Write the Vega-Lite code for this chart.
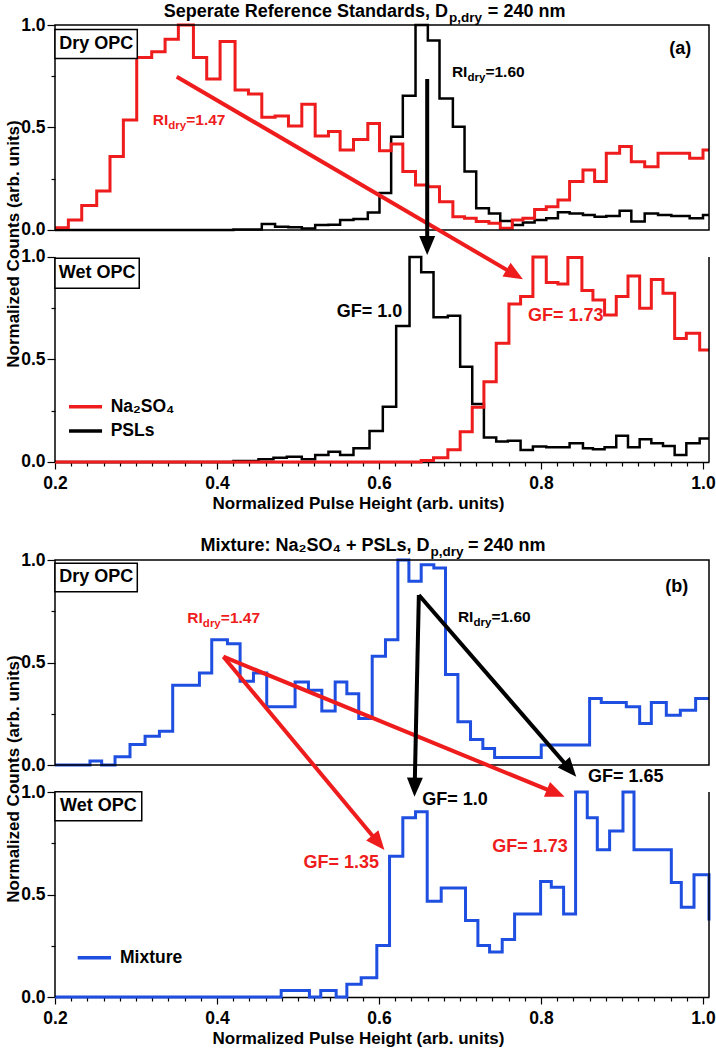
{
"$schema":"https://vega.github.io/schema/vega-lite/v6.json",
"width":654,"height":972,
"autosize":"none",
"padding":{"left":55,"top":25,"right":7,"bottom":53},
"config":{
 "font":"Liberation Sans",
 "view":{"stroke":null},
 "axis":{"labelFont":"Liberation Sans","labelFontSize":17.5,"labelFontWeight":"bold","labelColor":"#000","titleFont":"Liberation Sans","titleFontSize":17,"titleFontWeight":"bold","titleColor":"#000","tickColor":"#000","tickWidth":1.2,"domainColor":"#000","domainWidth":1.5,"grid":false,"labelFlush":false,"labelOverlap":false},
 "text":{"font":"Liberation Sans","fontWeight":"bold"}
},
"datasets":{
 "aDryNa":[{"x":0.2,"y":0.011},{"x":0.2165,"y":0.049},{"x":0.233,"y":0.119},{"x":0.2515,"y":0.19},{"x":0.2679,"y":0.358},{"x":0.2844,"y":0.537},{"x":0.3009,"y":0.842},{"x":0.3194,"y":0.87},{"x":0.3359,"y":0.93},{"x":0.3523,"y":1.0},{"x":0.3709,"y":0.842},{"x":0.3873,"y":0.737},{"x":0.4038,"y":0.919},{"x":0.4223,"y":0.683},{"x":0.4388,"y":0.663},{"x":0.4553,"y":0.55},{"x":0.4717,"y":0.556},{"x":0.4882,"y":0.507},{"x":0.5047,"y":0.613},{"x":0.5212,"y":0.459},{"x":0.5376,"y":0.48},{"x":0.552,"y":0.39},{"x":0.5685,"y":0.442},{"x":0.5862,"y":0.52},{"x":0.6006,"y":0.387},{"x":0.615,"y":0.42},{"x":0.6294,"y":0.285},{"x":0.6451,"y":0.22},{"x":0.6603,"y":0.211},{"x":0.6747,"y":0.138},{"x":0.6912,"y":0.065},{"x":0.7056,"y":0.057},{"x":0.72,"y":0.041},{"x":0.7357,"y":0.033},{"x":0.7497,"y":0.008},{"x":0.7645,"y":0.049},{"x":0.7777,"y":0.057},{"x":0.7921,"y":0.1},{"x":0.8065,"y":0.114},{"x":0.8209,"y":0.146},{"x":0.8353,"y":0.236},{"x":0.8518,"y":0.293},{"x":0.8662,"y":0.236},{"x":0.8806,"y":0.374},{"x":0.8971,"y":0.407},{"x":0.9115,"y":0.333},{"x":0.928,"y":0.309},{"x":0.9445,"y":0.374},{"x":0.9609,"y":0.374},{"x":0.9835,"y":0.35},{"x":1.0,"y":0.39},{"x":1.0074,"y":0.39}],
 "aDryPSL":[{"x":0.2,"y":0},{"x":0.4203,"y":0.003},{"x":0.4553,"y":0.029},{"x":0.4717,"y":0.016},{"x":0.4882,"y":0.013},{"x":0.5047,"y":0.007},{"x":0.5212,"y":0.024},{"x":0.5376,"y":0.026},{"x":0.552,"y":0.049},{"x":0.5685,"y":0.054},{"x":0.5862,"y":0.085},{"x":0.6006,"y":0.18},{"x":0.615,"y":0.455},{"x":0.6294,"y":0.655},{"x":0.6451,"y":1.0},{"x":0.6603,"y":0.924},{"x":0.6747,"y":0.642},{"x":0.6912,"y":0.504},{"x":0.7056,"y":0.285},{"x":0.72,"y":0.106},{"x":0.7357,"y":0.081},{"x":0.7497,"y":0.044},{"x":0.7645,"y":0.024},{"x":0.7777,"y":0.036},{"x":0.7921,"y":0.049},{"x":0.8065,"y":0.057},{"x":0.8209,"y":0.086},{"x":0.8353,"y":0.081},{"x":0.8518,"y":0.073},{"x":0.8662,"y":0.065},{"x":0.8806,"y":0.068},{"x":0.8971,"y":0.094},{"x":0.9115,"y":0.041},{"x":0.928,"y":0.081},{"x":0.9445,"y":0.073},{"x":0.9609,"y":0.068},{"x":0.9835,"y":0.057},{"x":1.0,"y":0.073},{"x":1.0074,"y":0.073}],
 "aWetPSL":[{"x":0.2,"y":0},{"x":0.4203,"y":0.005},{"x":0.4512,"y":0.013},{"x":0.4697,"y":0.021},{"x":0.4862,"y":0.026},{"x":0.5047,"y":0.013},{"x":0.5212,"y":0.034},{"x":0.5376,"y":0.05},{"x":0.552,"y":0.034},{"x":0.5685,"y":0.067},{"x":0.5883,"y":0.151},{"x":0.6047,"y":0.27},{"x":0.6212,"y":0.663},{"x":0.6377,"y":1.0},{"x":0.6521,"y":0.925},{"x":0.6673,"y":0.706},{"x":0.685,"y":0.714},{"x":0.7002,"y":0.465},{"x":0.7151,"y":0.283},{"x":0.7295,"y":0.12},{"x":0.7447,"y":0.1},{"x":0.7591,"y":0.104},{"x":0.7748,"y":0.059},{"x":0.79,"y":0.075},{"x":0.8065,"y":0.072},{"x":0.8209,"y":0.072},{"x":0.8353,"y":0.091},{"x":0.8518,"y":0.067},{"x":0.8641,"y":0.062},{"x":0.8785,"y":0.072},{"x":0.8929,"y":0.128},{"x":0.9074,"y":0.072},{"x":0.9218,"y":0.111},{"x":0.9362,"y":0.091},{"x":0.9506,"y":0.078},{"x":0.965,"y":0.034},{"x":0.9794,"y":0.091},{"x":0.9959,"y":0.115},{"x":1.0074,"y":0.115}],
 "aWetNa":[{"x":0.2,"y":0},{"x":0.6521,"y":0.007},{"x":0.6673,"y":0.021},{"x":0.685,"y":0.06},{"x":0.7002,"y":0.148},{"x":0.7151,"y":0.267},{"x":0.7295,"y":0.392},{"x":0.7447,"y":0.579},{"x":0.7604,"y":0.771},{"x":0.7748,"y":0.807},{"x":0.79,"y":1.0},{"x":0.8065,"y":0.875},{"x":0.8209,"y":0.868},{"x":0.8332,"y":0.998},{"x":0.8505,"y":0.836},{"x":0.8641,"y":0.79},{"x":0.8785,"y":0.717},{"x":0.8929,"y":0.807},{"x":0.9074,"y":0.907},{"x":0.9218,"y":0.75},{"x":0.9362,"y":0.89},{"x":0.9506,"y":0.823},{"x":0.965,"y":0.603},{"x":0.9794,"y":0.628},{"x":0.9959,"y":0.546},{"x":1.0074,"y":0.546}],
 "bDryMix":[{"x":0.2,"y":0},{"x":0.2432,"y":0.02},{"x":0.2576,"y":0},{"x":0.2741,"y":0.04},{"x":0.2926,"y":0.1},{"x":0.3112,"y":0.14},{"x":0.3289,"y":0.165},{"x":0.3453,"y":0.389},{"x":0.3783,"y":0.449},{"x":0.3935,"y":0.611},{"x":0.4129,"y":0.592},{"x":0.4285,"y":0.408},{"x":0.445,"y":0.449},{"x":0.4614,"y":0.284},{"x":0.4964,"y":0.405},{"x":0.5129,"y":0.365},{"x":0.5294,"y":0.264},{"x":0.5459,"y":0.405},{"x":0.5603,"y":0.348},{"x":0.575,"y":0.227},{"x":0.5916,"y":0.53},{"x":0.608,"y":0.611},{"x":0.6233,"y":1.0},{"x":0.6369,"y":0.896},{"x":0.6521,"y":0.977},{"x":0.6677,"y":0.961},{"x":0.6821,"y":0.441},{"x":0.6974,"y":0.211},{"x":0.713,"y":0.125},{"x":0.7282,"y":0.081},{"x":0.7427,"y":0.037},{"x":0.8003,"y":0.097},{"x":0.86,"y":0.324},{"x":0.8744,"y":0.305},{"x":0.9053,"y":0.284},{"x":0.9218,"y":0.203},{"x":0.9362,"y":0.305},{"x":0.9547,"y":0.243},{"x":0.972,"y":0.267},{"x":0.9909,"y":0.324},{"x":1.0074,"y":0.324}],
 "bWetMix":[{"x":0.2,"y":0},{"x":0.4792,"y":0.032},{"x":0.5141,"y":0},{"x":0.5281,"y":0.032},{"x":0.5471,"y":0},{"x":0.5603,"y":0.062},{"x":0.578,"y":0.094},{"x":0.5973,"y":0.251},{"x":0.613,"y":0.686},{"x":0.6294,"y":0.875},{"x":0.6451,"y":0.904},{"x":0.6595,"y":0.467},{"x":0.6768,"y":0.532},{"x":0.7068,"y":0.373},{"x":0.7221,"y":0.251},{"x":0.7365,"y":0.219},{"x":0.7521,"y":0.28},{"x":0.7674,"y":0.405},{"x":0.7995,"y":0.564},{"x":0.8127,"y":0.535},{"x":0.8279,"y":0.405},{"x":0.8427,"y":1.0},{"x":0.8571,"y":0.875},{"x":0.8695,"y":0.718},{"x":0.8847,"y":0.81},{"x":0.9012,"y":1.0},{"x":0.9148,"y":0.718},{"x":0.9609,"y":0.559},{"x":0.9732,"y":0.438},{"x":0.9889,"y":0.596},{"x":1.0074,"y":0.373}],
 "frames":[
  {"panel":"aDry","x":0.2,"x2":1.0074,"y":0,"y2":1},
  {"panel":"aWet","x":0.2,"x2":0.2,"y":0,"y2":1},
  {"panel":"aWet","x":1.0074,"x2":1.0074,"y":0,"y2":1},
  {"panel":"bDry","x":0.2,"x2":1.0074,"y":0,"y2":1},
  {"panel":"bWet","x":0.2,"x2":0.2,"y":0,"y2":1},
  {"panel":"bWet","x":1.0074,"x2":1.0074,"y":0,"y2":1}],
 "boxes":[
  {"panel":"aDry","x":0.2,"x2":0.3016,"y":0.8371,"y2":0.9785},
  {"panel":"aWet","x":0.2,"x2":0.304,"y":0.8473,"y2":0.9937},
  {"panel":"bDry","x":0.2,"x2":0.3016,"y":0.8454,"y2":0.9839},
  {"panel":"bWet","x":0.2,"x2":0.3071,"y":0.86,"y2":1.0015}],
 "keys":[
  {"panel":"aWet","series":"Na2SO4","x":0.2173,"x2":0.2581,"y":0.27},
  {"panel":"aWet","series":"PSLs","x":0.2173,"x2":0.2581,"y":0.151},
  {"panel":"bWet","series":"Mixture","x":0.228,"x2":0.2692,"y":0.1917}],
 "arrows":[
  {"panel":"aWet","id":"A1","series":"Na2SO4","x":0.3503,"y":1.8795,"x2":0.7692,"y2":0.9107},
  {"panel":"aWet","id":"A2","series":"PSLs","x":0.6595,"y":1.8683,"x2":0.6595,"y2":1.0488},
  {"panel":"bWet","id":"B1","series":"Na2SO4","x":0.4079,"y":1.66,"x2":0.6004,"y2":0.7468},
  {"panel":"bWet","id":"B2","series":"Na2SO4","x":0.4079,"y":1.66,"x2":0.8199,"y2":0.9917},
  {"panel":"bWet","id":"B3","series":"PSLs","x":0.6492,"y":1.961,"x2":0.644,"y2":1.0161},
  {"panel":"bWet","id":"B4","series":"PSLs","x":0.6492,"y":1.961,"x2":0.8371,"y2":1.1044}],
 "tips":[
  {"panel":"aWet","id":"A1","series":"Na2SO4","x":0.7777,"y":0.8912},
  {"panel":"aWet","id":"A2","series":"PSLs","x":0.6595,"y":1.0098},
  {"panel":"bWet","id":"B1","series":"Na2SO4","x":0.6067,"y":0.7171},
  {"panel":"bWet","id":"B2","series":"Na2SO4","x":0.8291,"y":0.9771},
  {"panel":"bWet","id":"B3","series":"PSLs","x":0.6438,"y":0.9771},
  {"panel":"bWet","id":"B4","series":"PSLs","x":0.8435,"y":1.0746}],
 "notes":[
  {"panel":"aDry","role":"title","x":0.6851,"y":1.0376,"text":"Seperate Reference Standards, D"},
  {"panel":"aDry","role":"titlesub","x":0.6851,"y":1.0376,"text":"p,dry"},
  {"panel":"aDry","role":"titletail","x":0.7344,"y":1.0376,"text":"= 240 nm"},
  {"panel":"aDry","role":"box","x":0.2508,"y":0.9078,"text":"Dry OPC"},
  {"panel":"aDry","role":"box","x":0.972,"y":0.883,"text":"(a)"},
  {"panel":"aDry","role":"ri","series":"Na2SO4","x":0.3207,"y":0.512,"text":"RI"},
  {"panel":"aDry","role":"risub","series":"Na2SO4","x":0.3207,"y":0.512,"text":"dry"},
  {"panel":"aDry","role":"ritail","series":"Na2SO4","x":0.3207,"y":0.512,"text":"=1.47"},
  {"panel":"aDry","role":"ri","series":"PSLs","x":0.69,"y":0.745,"text":"RI"},
  {"panel":"aDry","role":"risub","series":"PSLs","x":0.69,"y":0.745,"text":"dry"},
  {"panel":"aDry","role":"ritail","series":"PSLs","x":0.69,"y":0.745,"text":"=1.60"},
  {"panel":"aWet","role":"box","x":0.252,"y":0.9205,"text":"Wet OPC"},
  {"panel":"aWet","role":"gf","series":"PSLs","x":0.5479,"y":0.733,"text":"GF= 1.0"},
  {"panel":"aWet","role":"gf","series":"Na2SO4","x":0.7839,"y":0.714,"text":"GF= 1.73"},
  {"panel":"aWet","role":"legend","x":0.2687,"y":0.267,"text":"Na₂SO₄"},
  {"panel":"aWet","role":"legend","x":0.2687,"y":0.151,"text":"PSLs"},
  {"panel":"bDry","role":"title","x":0.6624,"y":1.0454,"text":"Mixture: Na₂SO₄ + PSLs,  D"},
  {"panel":"bDry","role":"titlesub","x":0.6624,"y":1.0454,"text":"p,dry"},
  {"panel":"bDry","role":"titletail","x":0.7098,"y":1.0454,"text":"= 240 nm"},
  {"panel":"bDry","role":"box","x":0.2508,"y":0.9147,"text":"Dry OPC"},
  {"panel":"bDry","role":"box","x":0.9677,"y":0.867,"text":"(b)"},
  {"panel":"bDry","role":"ri","series":"Na2SO4","x":0.3634,"y":0.694,"text":"RI"},
  {"panel":"bDry","role":"risub","series":"Na2SO4","x":0.3634,"y":0.694,"text":"dry"},
  {"panel":"bDry","role":"ritail","series":"Na2SO4","x":0.3634,"y":0.694,"text":"=1.47"},
  {"panel":"bDry","role":"ri","series":"PSLs","x":0.6974,"y":0.699,"text":"RI"},
  {"panel":"bDry","role":"risub","series":"PSLs","x":0.6974,"y":0.699,"text":"dry"},
  {"panel":"bDry","role":"ritail","series":"PSLs","x":0.6974,"y":0.699,"text":"=1.60"},
  {"panel":"bWet","role":"box","x":0.2536,"y":0.9307,"text":"Wet OPC"},
  {"panel":"bWet","role":"gf","series":"Na2SO4","x":0.5067,"y":0.6537,"text":"GF= 1.35"},
  {"panel":"bWet","role":"gf","series":"Na2SO4","x":0.7398,"y":0.73,"text":"GF= 1.73"},
  {"panel":"bWet","role":"gf","series":"PSLs","x":0.6533,"y":0.961,"text":"GF= 1.0"},
  {"panel":"bWet","role":"gf","series":"PSLs","x":0.858,"y":1.0746,"text":"GF= 1.65"},
  {"panel":"bWet","role":"legend","x":0.2803,"y":0.1917,"text":"Mixture"}]
},
"resolve":{"scale":{"x":"independent","y":"independent"}},
"layer":[
 {
  "encoding":{
   "x":{"field":"x","type":"quantitative","scale":{"domain":[0.2,1.0074],"nice":false,"zero":false},"axis":null},
   "y":{"field":"y","type":"quantitative","scale":{"domain":[-3.7415,1],"nice":false,"zero":false},
        "axis":{"orient":"left","values":[0,0.25,0.5,0.75,1],"domain":false,"labelPadding":2,
                "labelExpr":"(datum.value==0||datum.value==0.5||datum.value==1)?format(datum.value,'.1f'):''",
                "tickSize":{"condition":{"test":"datum.value==0||datum.value==0.5||datum.value==1","value":8},"value":4},
                "title":"Normalized Counts (arb. units)","titleX":-37,"titleY":218.5,"titleBaseline":"alphabetic","titleAngle":270}}
  },
  "layer":[
   {"data":{"name":"aDryPSL"},"mark":{"type":"line","interpolate":"step-after","color":"#000","strokeWidth":2.5}},
   {"data":{"name":"aDryNa"},"mark":{"type":"line","interpolate":"step-after","color":"#ee1c1c","strokeWidth":3}},
   {"data":{"name":"frames"},"transform":[{"filter":"datum.panel==='aDry'"}],"mark":{"type":"rect","filled":false,"color":"#000","strokeWidth":1.5},"encoding":{"x2":{"field":"x2"},"y2":{"field":"y2"}}},
   {"data":{"name":"boxes"},"transform":[{"filter":"datum.panel==='aDry'"}],"mark":{"type":"rect","fill":"#fff","stroke":"#000","strokeWidth":1.5},"encoding":{"x2":{"field":"x2"},"y2":{"field":"y2"}}},
   {"data":{"name":"notes"},"transform":[{"filter":"datum.panel==='aDry' && datum.role==='title'"}],"mark":{"type":"text","align":"right","baseline":"alphabetic","fontSize":18,"color":"#000"},"encoding":{"text":{"field":"text"}}},
   {"data":{"name":"notes"},"transform":[{"filter":"datum.panel==='aDry' && datum.role==='titlesub'"}],"mark":{"type":"text","align":"left","baseline":"alphabetic","fontSize":13.5,"dx":1,"dy":5,"color":"#000"},"encoding":{"text":{"field":"text"}}},
   {"data":{"name":"notes"},"transform":[{"filter":"datum.panel==='aDry' && datum.role==='titletail'"}],"mark":{"type":"text","align":"left","baseline":"alphabetic","fontSize":18,"color":"#000"},"encoding":{"text":{"field":"text"}}},
   {"data":{"name":"notes"},"transform":[{"filter":"datum.panel==='aDry' && datum.role==='box'"}],"mark":{"type":"text","align":"center","baseline":"middle","fontSize":18,"color":"#000"},"encoding":{"text":{"field":"text"}}},
   {"data":{"name":"notes"},"transform":[{"filter":"datum.panel==='aDry' && datum.role==='ri'"}],"mark":{"type":"text","align":"left","baseline":"alphabetic","fontSize":15.5},"encoding":{"text":{"field":"text"},"color":{"field":"series","type":"nominal","scale":{"domain":["Na2SO4","PSLs","Mixture"],"range":["#ee1c1c","#000000","#1f4fe0"]},"legend":null}}},
   {"data":{"name":"notes"},"transform":[{"filter":"datum.panel==='aDry' && datum.role==='risub'"}],"mark":{"type":"text","align":"left","baseline":"alphabetic","fontSize":11.5,"dx":15.5,"dy":4},"encoding":{"text":{"field":"text"},"color":{"field":"series","type":"nominal","scale":{"domain":["Na2SO4","PSLs","Mixture"],"range":["#ee1c1c","#000000","#1f4fe0"]},"legend":null}}},
   {"data":{"name":"notes"},"transform":[{"filter":"datum.panel==='aDry' && datum.role==='ritail'"}],"mark":{"type":"text","align":"left","baseline":"alphabetic","fontSize":15.5,"dx":33.5},"encoding":{"text":{"field":"text"},"color":{"field":"series","type":"nominal","scale":{"domain":["Na2SO4","PSLs","Mixture"],"range":["#ee1c1c","#000000","#1f4fe0"]},"legend":null}}}
  ]
 },
 {
  "encoding":{
   "x":{"field":"x","type":"quantitative","scale":{"domain":[0.2,1.0074],"nice":false,"zero":false},
        "axis":{"orient":"bottom","offset":-535,"domain":true,"labelPadding":5,
                "values":[0.2,0.22,0.24,0.26,0.28,0.3,0.32,0.34,0.36,0.38,0.4,0.42,0.44,0.46,0.48,0.5,0.52,0.54,0.56,0.58,0.6,0.62,0.64,0.66,0.68,0.7,0.72,0.74,0.76,0.78,0.8,0.82,0.84,0.86,0.88,0.9,0.92,0.94,0.96,0.98,1.0],
                "labelExpr":"abs(datum.value*5-round(datum.value*5))<0.000001?format(datum.value,'.1f'):''",
                "tickSize":{"condition":{"test":"abs(datum.value*5-round(datum.value*5))<0.000001","value":7},"value":4},
                "title":"Normalized Pulse Height (arb. units)","titleX":303,"titlePadding":4}},
   "y":{"field":"y","type":"quantitative","scale":{"domain":[-2.6098,2.1317],"nice":false,"zero":false},
        "axis":{"orient":"left","values":[0,0.25,0.5,0.75,1],"domain":false,"labelPadding":2,
                "labelExpr":"(datum.value==0||datum.value==0.5||datum.value==1)?format(datum.value,'.1f'):''",
                "tickSize":{"condition":{"test":"datum.value==0||datum.value==0.5||datum.value==1","value":8},"value":4},
                "title":null}}
  },
  "layer":[
   {"data":{"name":"aWetPSL"},"mark":{"type":"line","interpolate":"step-after","color":"#000","strokeWidth":2.5}},
   {"data":{"name":"aWetNa"},"mark":{"type":"line","interpolate":"step-after","color":"#ee1c1c","strokeWidth":3}},
   {"data":{"name":"frames"},"transform":[{"filter":"datum.panel==='aWet'"}],"mark":{"type":"rule","color":"#000","strokeWidth":1.5},"encoding":{"x2":{"field":"x2"},"y2":{"field":"y2"}}},
   {"data":{"name":"boxes"},"transform":[{"filter":"datum.panel==='aWet'"}],"mark":{"type":"rect","fill":"#fff","stroke":"#000","strokeWidth":1.5},"encoding":{"x2":{"field":"x2"},"y2":{"field":"y2"}}},
   {"data":{"name":"notes"},"transform":[{"filter":"datum.panel==='aWet' && datum.role==='box'"}],"mark":{"type":"text","align":"center","baseline":"middle","fontSize":18,"color":"#000"},"encoding":{"text":{"field":"text"}}},
   {"data":{"name":"notes"},"transform":[{"filter":"datum.panel==='aWet' && datum.role==='legend'"}],"mark":{"type":"text","align":"left","baseline":"middle","fontSize":17.5,"color":"#000"},"encoding":{"text":{"field":"text"}}},
   {"data":{"name":"keys"},"transform":[{"filter":"datum.panel==='aWet'"}],"mark":{"type":"rule","strokeWidth":3.5},"encoding":{"x2":{"field":"x2"},"color":{"field":"series","type":"nominal","scale":{"domain":["Na2SO4","PSLs","Mixture"],"range":["#ee1c1c","#000000","#1f4fe0"]},"legend":null}}},
   {"data":{"name":"notes"},"transform":[{"filter":"datum.panel==='aWet' && datum.role==='gf'"}],"mark":{"type":"text","align":"left","baseline":"middle","fontSize":18},"encoding":{"text":{"field":"text"},"color":{"field":"series","type":"nominal","scale":{"domain":["Na2SO4","PSLs","Mixture"],"range":["#ee1c1c","#000000","#1f4fe0"]},"legend":null}}},
   {"data":{"name":"arrows"},"transform":[{"filter":"datum.panel==='aWet'"}],"mark":{"type":"rule","strokeWidth":4},"encoding":{"x2":{"field":"x2"},"y2":{"field":"y2"},"color":{"field":"series","type":"nominal","scale":{"domain":["Na2SO4","PSLs","Mixture"],"range":["#ee1c1c","#000000","#1f4fe0"]},"legend":null}}},
   {"data":{"name":"tips"},"transform":[{"filter":"datum.id==='A1'"}],"mark":{"type":"point","shape":"M0,0L-0.42,1L0.42,1Z","size":1444,"angle":120.35,"filled":true,"opacity":1,"strokeWidth":0},"encoding":{"color":{"field":"series","type":"nominal","scale":{"domain":["Na2SO4","PSLs","Mixture"],"range":["#ee1c1c","#000000","#1f4fe0"]},"legend":null}}},
   {"data":{"name":"tips"},"transform":[{"filter":"datum.id==='A2'"}],"mark":{"type":"point","shape":"M0,0L-0.42,1L0.42,1Z","size":1444,"angle":180,"filled":true,"opacity":1,"strokeWidth":0},"encoding":{"color":{"field":"series","type":"nominal","scale":{"domain":["Na2SO4","PSLs","Mixture"],"range":["#ee1c1c","#000000","#1f4fe0"]},"legend":null}}}
  ]
 },
 {
  "encoding":{
   "x":{"field":"x","type":"quantitative","scale":{"domain":[0.2,1.0074],"nice":false,"zero":false},"axis":null},
   "y":{"field":"y","type":"quantitative","scale":{"domain":[-1.1317,3.6098],"nice":false,"zero":false},
        "axis":{"orient":"left","values":[0,0.25,0.5,0.75,1],"domain":false,"labelPadding":2,
                "labelExpr":"(datum.value==0||datum.value==0.5||datum.value==1)?format(datum.value,'.1f'):''",
                "tickSize":{"condition":{"test":"datum.value==0||datum.value==0.5||datum.value==1","value":8},"value":4},
                "title":"Normalized Counts (arb. units)","titleX":-37,"titleY":753.5,"titleBaseline":"alphabetic","titleAngle":270}}
  },
  "layer":[
   {"data":{"name":"bDryMix"},"mark":{"type":"line","interpolate":"step-after","color":"#1f4fe0","strokeWidth":3}},
   {"data":{"name":"frames"},"transform":[{"filter":"datum.panel==='bDry'"}],"mark":{"type":"rect","filled":false,"color":"#000","strokeWidth":1.5},"encoding":{"x2":{"field":"x2"},"y2":{"field":"y2"}}},
   {"data":{"name":"boxes"},"transform":[{"filter":"datum.panel==='bDry'"}],"mark":{"type":"rect","fill":"#fff","stroke":"#000","strokeWidth":1.5},"encoding":{"x2":{"field":"x2"},"y2":{"field":"y2"}}},
   {"data":{"name":"notes"},"transform":[{"filter":"datum.panel==='bDry' && datum.role==='title'"}],"mark":{"type":"text","align":"right","baseline":"alphabetic","fontSize":18,"color":"#000"},"encoding":{"text":{"field":"text"}}},
   {"data":{"name":"notes"},"transform":[{"filter":"datum.panel==='bDry' && datum.role==='titlesub'"}],"mark":{"type":"text","align":"left","baseline":"alphabetic","fontSize":13.5,"dx":1,"dy":5,"color":"#000"},"encoding":{"text":{"field":"text"}}},
   {"data":{"name":"notes"},"transform":[{"filter":"datum.panel==='bDry' && datum.role==='titletail'"}],"mark":{"type":"text","align":"left","baseline":"alphabetic","fontSize":18,"color":"#000"},"encoding":{"text":{"field":"text"}}},
   {"data":{"name":"notes"},"transform":[{"filter":"datum.panel==='bDry' && datum.role==='box'"}],"mark":{"type":"text","align":"center","baseline":"middle","fontSize":18,"color":"#000"},"encoding":{"text":{"field":"text"}}},
   {"data":{"name":"notes"},"transform":[{"filter":"datum.panel==='bDry' && datum.role==='ri'"}],"mark":{"type":"text","align":"left","baseline":"alphabetic","fontSize":15.5},"encoding":{"text":{"field":"text"},"color":{"field":"series","type":"nominal","scale":{"domain":["Na2SO4","PSLs","Mixture"],"range":["#ee1c1c","#000000","#1f4fe0"]},"legend":null}}},
   {"data":{"name":"notes"},"transform":[{"filter":"datum.panel==='bDry' && datum.role==='risub'"}],"mark":{"type":"text","align":"left","baseline":"alphabetic","fontSize":11.5,"dx":15.5,"dy":4},"encoding":{"text":{"field":"text"},"color":{"field":"series","type":"nominal","scale":{"domain":["Na2SO4","PSLs","Mixture"],"range":["#ee1c1c","#000000","#1f4fe0"]},"legend":null}}},
   {"data":{"name":"notes"},"transform":[{"filter":"datum.panel==='bDry' && datum.role==='ritail'"}],"mark":{"type":"text","align":"left","baseline":"alphabetic","fontSize":15.5,"dx":33.5},"encoding":{"text":{"field":"text"},"color":{"field":"series","type":"nominal","scale":{"domain":["Na2SO4","PSLs","Mixture"],"range":["#ee1c1c","#000000","#1f4fe0"]},"legend":null}}}
  ]
 },
 {
  "encoding":{
   "x":{"field":"x","type":"quantitative","scale":{"domain":[0.2,1.0074],"nice":false,"zero":false},
        "axis":{"orient":"bottom","offset":0,"domain":true,"labelPadding":5,
                "values":[0.2,0.22,0.24,0.26,0.28,0.3,0.32,0.34,0.36,0.38,0.4,0.42,0.44,0.46,0.48,0.5,0.52,0.54,0.56,0.58,0.6,0.62,0.64,0.66,0.68,0.7,0.72,0.74,0.76,0.78,0.8,0.82,0.84,0.86,0.88,0.9,0.92,0.94,0.96,0.98,1.0],
                "labelExpr":"abs(datum.value*5-round(datum.value*5))<0.000001?format(datum.value,'.1f'):''",
                "tickSize":{"condition":{"test":"abs(datum.value*5-round(datum.value*5))<0.000001","value":7},"value":4},
                "title":"Normalized Pulse Height (arb. units)","titleX":303,"titlePadding":4}},
   "y":{"field":"y","type":"quantitative","scale":{"domain":[0,4.7415],"nice":false,"zero":false},
        "axis":{"orient":"left","values":[0,0.25,0.5,0.75,1],"domain":false,"labelPadding":2,
                "labelExpr":"(datum.value==0||datum.value==0.5||datum.value==1)?format(datum.value,'.1f'):''",
                "tickSize":{"condition":{"test":"datum.value==0||datum.value==0.5||datum.value==1","value":8},"value":4},
                "title":null}}
  },
  "layer":[
   {"data":{"name":"bWetMix"},"mark":{"type":"line","interpolate":"step-after","color":"#1f4fe0","strokeWidth":3}},
   {"data":{"name":"frames"},"transform":[{"filter":"datum.panel==='bWet'"}],"mark":{"type":"rule","color":"#000","strokeWidth":1.5},"encoding":{"x2":{"field":"x2"},"y2":{"field":"y2"}}},
   {"data":{"name":"boxes"},"transform":[{"filter":"datum.panel==='bWet'"}],"mark":{"type":"rect","fill":"#fff","stroke":"#000","strokeWidth":1.5},"encoding":{"x2":{"field":"x2"},"y2":{"field":"y2"}}},
   {"data":{"name":"notes"},"transform":[{"filter":"datum.panel==='bWet' && datum.role==='box'"}],"mark":{"type":"text","align":"center","baseline":"middle","fontSize":18,"color":"#000"},"encoding":{"text":{"field":"text"}}},
   {"data":{"name":"notes"},"transform":[{"filter":"datum.panel==='bWet' && datum.role==='legend'"}],"mark":{"type":"text","align":"left","baseline":"middle","fontSize":17.5,"color":"#000"},"encoding":{"text":{"field":"text"}}},
   {"data":{"name":"keys"},"transform":[{"filter":"datum.panel==='bWet'"}],"mark":{"type":"rule","strokeWidth":3.5},"encoding":{"x2":{"field":"x2"},"color":{"field":"series","type":"nominal","scale":{"domain":["Na2SO4","PSLs","Mixture"],"range":["#ee1c1c","#000000","#1f4fe0"]},"legend":null}}},
   {"data":{"name":"notes"},"transform":[{"filter":"datum.panel==='bWet' && datum.role==='gf'"}],"mark":{"type":"text","align":"left","baseline":"middle","fontSize":18},"encoding":{"text":{"field":"text"},"color":{"field":"series","type":"nominal","scale":{"domain":["Na2SO4","PSLs","Mixture"],"range":["#ee1c1c","#000000","#1f4fe0"]},"legend":null}}},
   {"data":{"name":"arrows"},"transform":[{"filter":"datum.panel==='bWet'"}],"mark":{"type":"rule","strokeWidth":4},"encoding":{"x2":{"field":"x2"},"y2":{"field":"y2"},"color":{"field":"series","type":"nominal","scale":{"domain":["Na2SO4","PSLs","Mixture"],"range":["#ee1c1c","#000000","#1f4fe0"]},"legend":null}}},
   {"data":{"name":"tips"},"transform":[{"filter":"datum.id==='B1'"}],"mark":{"type":"point","shape":"M0,0L-0.42,1L0.42,1Z","size":1444,"angle":140.2,"filled":true,"opacity":1,"strokeWidth":0},"encoding":{"color":{"field":"series","type":"nominal","scale":{"domain":["Na2SO4","PSLs","Mixture"],"range":["#ee1c1c","#000000","#1f4fe0"]},"legend":null}}},
   {"data":{"name":"tips"},"transform":[{"filter":"datum.id==='B2'"}],"mark":{"type":"point","shape":"M0,0L-0.42,1L0.42,1Z","size":1444,"angle":112.3,"filled":true,"opacity":1,"strokeWidth":0},"encoding":{"color":{"field":"series","type":"nominal","scale":{"domain":["Na2SO4","PSLs","Mixture"],"range":["#ee1c1c","#000000","#1f4fe0"]},"legend":null}}},
   {"data":{"name":"tips"},"transform":[{"filter":"datum.id==='B3'"}],"mark":{"type":"point","shape":"M0,0L-0.42,1L0.42,1Z","size":1444,"angle":181.25,"filled":true,"opacity":1,"strokeWidth":0},"encoding":{"color":{"field":"series","type":"nominal","scale":{"domain":["Na2SO4","PSLs","Mixture"],"range":["#ee1c1c","#000000","#1f4fe0"]},"legend":null}}},
   {"data":{"name":"tips"},"transform":[{"filter":"datum.id==='B4'"}],"mark":{"type":"point","shape":"M0,0L-0.42,1L0.42,1Z","size":1444,"angle":139.1,"filled":true,"opacity":1,"strokeWidth":0},"encoding":{"color":{"field":"series","type":"nominal","scale":{"domain":["Na2SO4","PSLs","Mixture"],"range":["#ee1c1c","#000000","#1f4fe0"]},"legend":null}}}
  ]
 }
]
}
